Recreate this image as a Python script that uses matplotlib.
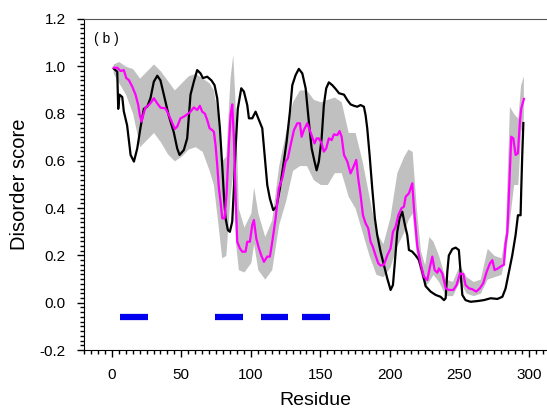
import matplotlib
matplotlib.use("Agg")
import matplotlib.pyplot as plt
from matplotlib.ticker import MultipleLocator, FormatStrFormatter

plt.rcParams['font.family'] = ['Liberation Sans', 'DejaVu Sans']

# Black line (single predictor)
black_x = [1.4, 3.9, 4.6, 5.5, 7.5, 8.6, 11, 13.5, 15.9, 18.3, 20.6, 23, 25.5, 27.8, 30.2, 32.7, 35, 37.4,
           41, 44.6, 47, 48.7, 51.8, 54.2, 56.6, 59, 61.4, 63.8, 65.5, 68.6, 71.7, 73.9, 75.8, 77.7, 79.4,
           80.6, 81.8, 83.5, 84.9, 86.6, 87.8, 89, 90.6, 93.1, 95, 97.4, 98.6, 101, 103.4, 105.8, 108.2,
           109.9, 111.8, 113.7, 116.1, 118.5, 120.9, 123.3, 125.7, 128.1, 129.8, 132.2, 134.5, 137, 139.4,
           141.7, 143.7, 145.8, 147.3, 148.9, 150.9, 152.5, 154.2, 156.1, 158.6, 161, 163.4, 167, 169.4,
           171.7, 174.1, 176.5, 178.9, 181.3, 182.5, 183.7, 185.4, 187.3, 189.2, 190.9, 193.3, 195.7,
           198.1, 200.5, 202.2, 203.6, 205.3, 207, 208.9, 210.8, 212.5, 213.7, 216.1, 218.5, 220.9,
           223.3, 225.7, 229.3, 232.9, 236.5, 238.9, 240.1, 241.3, 242.4, 244.9, 247.3, 249.6, 250.8,
           252.1, 254.4, 258, 262.9, 267.6, 272.5, 277.3, 280.9, 283.2, 285.6, 288, 290.4, 292.1, 294,
           294.5, 295.2, 296]
black_y = [0.99, 0.977, 0.82, 0.88, 0.87, 0.81, 0.75, 0.625, 0.597, 0.653, 0.74, 0.82, 0.83, 0.865, 0.935,
           0.96, 0.94, 0.88, 0.79, 0.72, 0.653, 0.625, 0.646, 0.695, 0.88, 0.935, 0.984, 0.97, 0.95, 0.956,
           0.94, 0.92, 0.865, 0.74, 0.58, 0.455, 0.357, 0.307, 0.30, 0.343, 0.484, 0.653, 0.82, 0.907,
           0.893, 0.836, 0.78, 0.78, 0.808, 0.773, 0.738, 0.625, 0.498, 0.44, 0.392, 0.406, 0.484, 0.58,
           0.68, 0.808, 0.92, 0.963, 0.989, 0.97, 0.907, 0.766, 0.653, 0.597, 0.56, 0.597, 0.695, 0.836,
           0.907, 0.932, 0.92, 0.904, 0.886, 0.88, 0.857, 0.839, 0.833, 0.829, 0.836, 0.829, 0.794, 0.738,
           0.625, 0.484, 0.357, 0.286, 0.216, 0.16, 0.103, 0.054, 0.075, 0.173, 0.30, 0.357, 0.385, 0.329,
           0.286, 0.223, 0.216, 0.20, 0.18, 0.131, 0.07, 0.047, 0.033, 0.025, 0.011, 0.019, 0.131, 0.20,
           0.227, 0.233, 0.223, 0.131, 0.033, 0.011, 0.004, 0.007, 0.011, 0.019, 0.016, 0.025, 0.06, 0.131,
           0.20, 0.286, 0.37, 0.37, 0.484, 0.625, 0.76]

# Magenta line (mean score)
mean_x = [1.4, 3.9, 6.3, 8.6, 10.4, 12.2, 14.7, 17.1, 19, 20.1, 21.4, 22.6, 24.2, 26.6, 28.6, 30.2, 32.7,
          35, 38.6, 41, 43.5, 45.3, 47, 49.4, 51.8, 54.2, 56.6, 59, 61.4, 63.3, 65, 66.9, 68.6, 70.3, 72.2,
          73.4, 74.6, 75.8, 77, 78.2, 79.4, 81.1, 82.5, 84.2, 85.4, 86.6, 87.8, 89, 90.2, 92.1, 93.8, 96.2,
          97.4, 99.3, 101, 102.2, 103.9, 105.8, 107.5, 109.4, 111.8, 113.7, 115.4, 117.8, 120.1, 122.6,
          125, 126.6, 128.6, 131, 133.4, 135.3, 136.5, 138.1, 140.6, 142.4, 144.2, 145.8, 147.3, 148.9,
          150.9, 152.5, 154.2, 156.1, 158.1, 159.7, 162.2, 163.8, 165.3, 167, 169.4, 171.7, 173.4, 175.8,
          177.2, 178.9, 180.6, 182.5, 184.4, 186.1, 187.7, 189.7, 191.6, 193.3, 195.7, 198.1, 200.5,
          202.2, 204.1, 206.1, 208.4, 210.1, 211.3, 213.7, 216.1, 217.3, 219.7, 222.1, 224.5, 226.9,
          228.8, 230.5, 232.2, 234.1, 235.3, 237.7, 240.1, 242.4, 245.6, 248, 250.4, 252.8, 254.4, 256.8,
          259.3, 262.1, 264.7, 267.1, 269.6, 272, 273.7, 275.3, 277.7, 280.1, 282, 283.2, 284.4, 285,
          286.3, 287.3, 288.8, 290.4, 292.1, 293.5, 294.5, 296.4]
mean_y = [0.994, 0.994, 0.98, 0.984, 0.95, 0.942, 0.914, 0.879, 0.836, 0.794, 0.766, 0.794, 0.825, 0.836,
          0.85, 0.865, 0.843, 0.825, 0.822, 0.794, 0.759, 0.735, 0.745, 0.78, 0.787, 0.797, 0.808, 0.826,
          0.815, 0.833, 0.808, 0.80, 0.773, 0.738, 0.73, 0.723, 0.667, 0.583, 0.484, 0.427, 0.357, 0.357,
          0.456, 0.667, 0.794, 0.839, 0.695, 0.456, 0.258, 0.23, 0.216, 0.216, 0.258, 0.258, 0.329, 0.35,
          0.272, 0.23, 0.20, 0.173, 0.195, 0.195, 0.258, 0.357, 0.484, 0.526, 0.597, 0.611, 0.667, 0.73,
          0.759, 0.759, 0.702, 0.73, 0.759, 0.73, 0.702, 0.674, 0.695, 0.695, 0.674, 0.639, 0.653, 0.695,
          0.688, 0.712, 0.709, 0.726, 0.702, 0.625, 0.597, 0.547, 0.569, 0.604, 0.526, 0.456, 0.371, 0.336,
          0.315, 0.258, 0.237, 0.20, 0.167, 0.157, 0.16, 0.20, 0.23, 0.30, 0.321, 0.371, 0.40, 0.406,
          0.448, 0.463, 0.505, 0.40, 0.24, 0.165, 0.11, 0.096, 0.152, 0.195, 0.138, 0.127, 0.145, 0.124,
          0.061, 0.054, 0.054, 0.075, 0.124, 0.121, 0.075, 0.061, 0.057, 0.047, 0.061, 0.082, 0.131,
          0.167, 0.18, 0.138, 0.145, 0.155, 0.16, 0.251, 0.294, 0.37, 0.554, 0.702, 0.695, 0.625, 0.632,
          0.766, 0.822, 0.862]

# Gray band (spread of predictions)
band_x = [1, 5, 10, 15, 20, 25, 30, 35, 40, 45, 50, 55, 60, 65, 70, 73, 76, 79, 82, 85, 87, 89, 91, 95,
          100, 102, 105, 110, 115, 120, 125, 130, 135, 140, 145, 150, 155, 160, 165, 170, 175, 180, 185,
          190, 195, 200, 205, 210, 213, 216, 219, 222, 225, 228, 231, 235, 240, 245, 250, 255, 260, 265,
          270, 275, 280, 283, 286, 289, 292, 294, 296]
band_hi = [1.01, 1.02, 1.00, 0.99, 0.95, 0.98, 1.01, 0.98, 0.94, 0.90, 0.93, 0.96, 0.97, 0.95, 0.93, 0.90,
           0.80, 0.60, 0.62, 0.95, 1.05, 0.80, 0.40, 0.32, 0.38, 0.49, 0.38, 0.28, 0.35, 0.58, 0.72, 0.85,
           0.90, 0.90, 0.86, 0.85, 0.86, 0.87, 0.85, 0.72, 0.72, 0.60, 0.45, 0.30, 0.25, 0.36, 0.55, 0.62,
           0.65, 0.64, 0.40, 0.22, 0.16, 0.28, 0.26, 0.20, 0.10, 0.09, 0.16, 0.11, 0.09, 0.10, 0.23, 0.20,
           0.19, 0.30, 0.83, 0.80, 0.78, 0.92, 0.96]
band_lo = [0.97, 0.93, 0.88, 0.80, 0.66, 0.69, 0.72, 0.68, 0.63, 0.60, 0.62, 0.65, 0.66, 0.64, 0.56, 0.50,
           0.35, 0.19, 0.20, 0.45, 0.55, 0.25, 0.14, 0.13, 0.17, 0.25, 0.14, 0.10, 0.14, 0.33, 0.43, 0.56,
           0.58, 0.58, 0.52, 0.50, 0.50, 0.55, 0.55, 0.45, 0.40, 0.30, 0.20, 0.12, 0.11, 0.15, 0.24, 0.30,
           0.35, 0.38, 0.20, 0.12, 0.07, 0.09, 0.12, 0.09, 0.03, 0.03, 0.09, 0.04, 0.03, 0.04, 0.10, 0.11,
           0.12, 0.20, 0.35, 0.50, 0.50, 0.72, 0.78]

# Blue segments (regions)
seg_start = [6, 74, 107, 137]
seg_end = [26, 94, 127, 157]
seg_level = -0.06

fig = plt.figure(figsize=(5.47, 4.13), dpi=100)
ax = fig.add_axes([0.1536, 0.1525, 0.8464, 0.8015])

ax.fill_between(band_x, band_lo, band_hi, color='#c0c0c0', linewidth=0)
ax.plot(black_x, black_y, color='black', lw=1.6)
ax.plot(mean_x, mean_y, color='#ff00ff', lw=1.6)
for s, e in zip(seg_start, seg_end):
    ax.plot([s, e], [seg_level, seg_level], color='#0000ee', lw=4.5, solid_capstyle='butt')

ax.set_xlim(-20, 313)
ax.set_ylim(-0.2, 1.2)
ax.xaxis.set_major_locator(MultipleLocator(50))
ax.xaxis.set_minor_locator(MultipleLocator(5))
ax.yaxis.set_major_locator(MultipleLocator(0.2))
ax.yaxis.set_minor_locator(MultipleLocator(0.02))
ax.yaxis.set_major_formatter(FormatStrFormatter('%.1f'))
ax.tick_params(axis='both', which='major', direction='out', length=5, width=1, labelsize=11, pad=8)
ax.tick_params(axis='both', which='minor', direction='out', length=3, width=1)
ax.spines['right'].set_visible(False)
ax.spines['top'].set_color('#555555')

ax.set_xlabel('Residue', fontsize=14, labelpad=7)
ax.set_ylabel('Disorder score', fontsize=14.5, labelpad=8)
ax.text(-13, 1.115, '( b )', fontsize=10, ha='left', va='center')

fig.savefig('out.png', dpi=100)
